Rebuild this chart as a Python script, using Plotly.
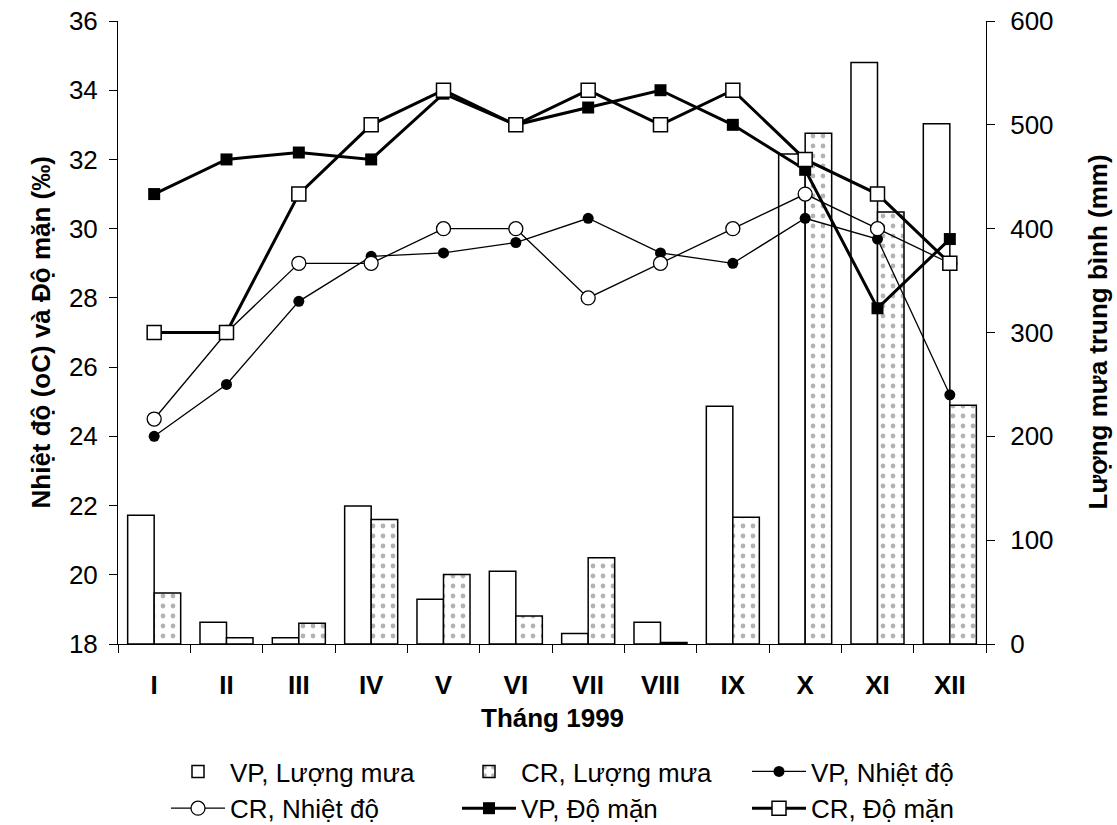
import plotly.graph_objects as go

# Monthly observations, 1999
months = ["I", "II", "III", "IV", "V", "VI", "VII", "VIII", "IX", "X", "XI", "XII"]
rain_vp = [124, 21, 6, 133, 43, 70, 10, 21, 229, 472, 560, 501]          # mm
rain_cr = [49, 6, 20, 120, 67, 27, 83, 1.5, 122, 492, 416, 230]          # mm
temp_vp = [24.0, 25.5, 27.9, 29.2, 29.3, 29.6, 30.3, 29.3, 29.0, 30.3, 29.7, 25.2]
temp_cr = [24.5, 27.0, 29.0, 29.0, 30.0, 30.0, 28.0, 29.0, 30.0, 31.0, 30.0, 29.0]
sal_vp = [31.0, 32.0, 32.2, 32.0, 33.9, 33.0, 33.5, 34.0, 33.0, 31.7, 27.7, 29.7]
sal_cr = [27.0, 27.0, 31.0, 33.0, 34.0, 33.0, 34.0, 33.0, 34.0, 32.0, 31.0, 29.0]

FONT = "Liberation Sans, Arial, sans-serif"
FS = 26

W, H = 1117, 825
ML, MR, MT, MB = 118, 131, 21, 181
PW, PH = W - ML - MR, H - MT - MB

fig = go.Figure()

# Rainfall bars (right axis)
fig.add_trace(go.Bar(
    x=months, y=rain_vp, name="VP, Lượng mưa", yaxis="y", legend="legend",
    marker=dict(color="white", line=dict(color="black", width=1.5)),
))
fig.add_trace(go.Bar(
    x=months, y=rain_cr, name="CR, Lượng mưa", yaxis="y", legend="legend2",
    marker=dict(color="white", line=dict(color="black", width=1.5),
                pattern=dict(shape=".", fgcolor="#666666", bgcolor="white",
                             size=10, solidity=0.18)),
))

# Temperature and salinity lines (left axis)
fig.add_trace(go.Scatter(
    x=months, y=temp_vp, name="VP, Nhiệt độ", yaxis="y2", legend="legend3",
    mode="lines+markers", line=dict(color="black", width=1.3),
    marker=dict(symbol="circle", size=11, color="black"),
))
fig.add_trace(go.Scatter(
    x=months, y=temp_cr, name="CR, Nhiệt độ", yaxis="y2", legend="legend",
    mode="lines+markers", line=dict(color="black", width=1.3),
    marker=dict(symbol="circle", size=14, color="white",
                line=dict(color="black", width=1.3)),
))
fig.add_trace(go.Scatter(
    x=months, y=sal_vp, name="VP, Độ mặn", yaxis="y2", legend="legend2",
    mode="lines+markers", line=dict(color="black", width=3),
    marker=dict(symbol="square", size=12, color="black"),
))
fig.add_trace(go.Scatter(
    x=months, y=sal_cr, name="CR, Độ mặn", yaxis="y2", legend="legend3",
    mode="lines+markers", line=dict(color="black", width=3),
    marker=dict(symbol="square", size=14, color="white",
                line=dict(color="black", width=1.5)),
))

axis_common = dict(
    showline=True, linecolor="black", linewidth=1,
    ticks="outside", ticklen=8, tickcolor="black", tickwidth=1,
    showgrid=False, zeroline=False,
    tickfont=dict(family=FONT, size=FS, color="black"),
)

legend_common = dict(
    orientation="v", xref="container", yref="container",
    xanchor="left", yanchor="top", y=77 / H,
    font=dict(family=FONT, size=FS, color="black"),
    itemwidth=54, bgcolor="rgba(0,0,0,0)", borderwidth=0,
    traceorder="normal", tracegroupgap=0,
)

title_font = dict(family=FONT, size=FS, color="black", weight="bold")

fig.update_layout(
    width=W, height=H,
    margin=dict(l=ML, r=MR, t=MT, b=MB, autoexpand=False),
    paper_bgcolor="white", plot_bgcolor="white",
    font=dict(family=FONT, size=FS, color="black"),
    barmode="group", bargap=0.267, bargroupgap=0,
    xaxis=dict(
        type="category", range=[-0.5, len(months) - 0.5],
        tickson="boundaries", ticklabelstandoff=18,
        **{**axis_common,
           "tickfont": dict(family=FONT, size=FS, color="black", weight="bold")},
    ),
    yaxis=dict(
        side="right", range=[0, 600], dtick=100, anchor="x",
        ticklabelstandoff=10,
        **axis_common,
    ),
    yaxis2=dict(
        side="left", overlaying="y", range=[18, 36], dtick=2, anchor="x",
        ticklabelstandoff=6,
        **axis_common,
    ),
    legend=dict(x=166 / W, **legend_common),
    legend2=dict(x=457 / W, **legend_common),
    legend3=dict(x=747 / W, **legend_common),
    annotations=[
        dict(text="Nhiệt độ (oC) và Độ mặn (‰)", textangle=-90,
             xref="paper", yref="paper", x=(40 - ML) / PW, y=0.5,
             xanchor="center", yanchor="middle", showarrow=False, font=title_font),
        dict(text="Lượng mưa trung bình (mm)", textangle=-90,
             xref="paper", yref="paper", x=(1097 - ML) / PW, y=0.5,
             xanchor="center", yanchor="middle", showarrow=False, font=title_font),
        dict(text="Tháng 1999",
             xref="paper", yref="paper", x=0.5, y=-(718 - (H - MB)) / PH,
             xanchor="center", yanchor="middle", showarrow=False, font=title_font),
    ],
)

fig.write_html("out.html")
